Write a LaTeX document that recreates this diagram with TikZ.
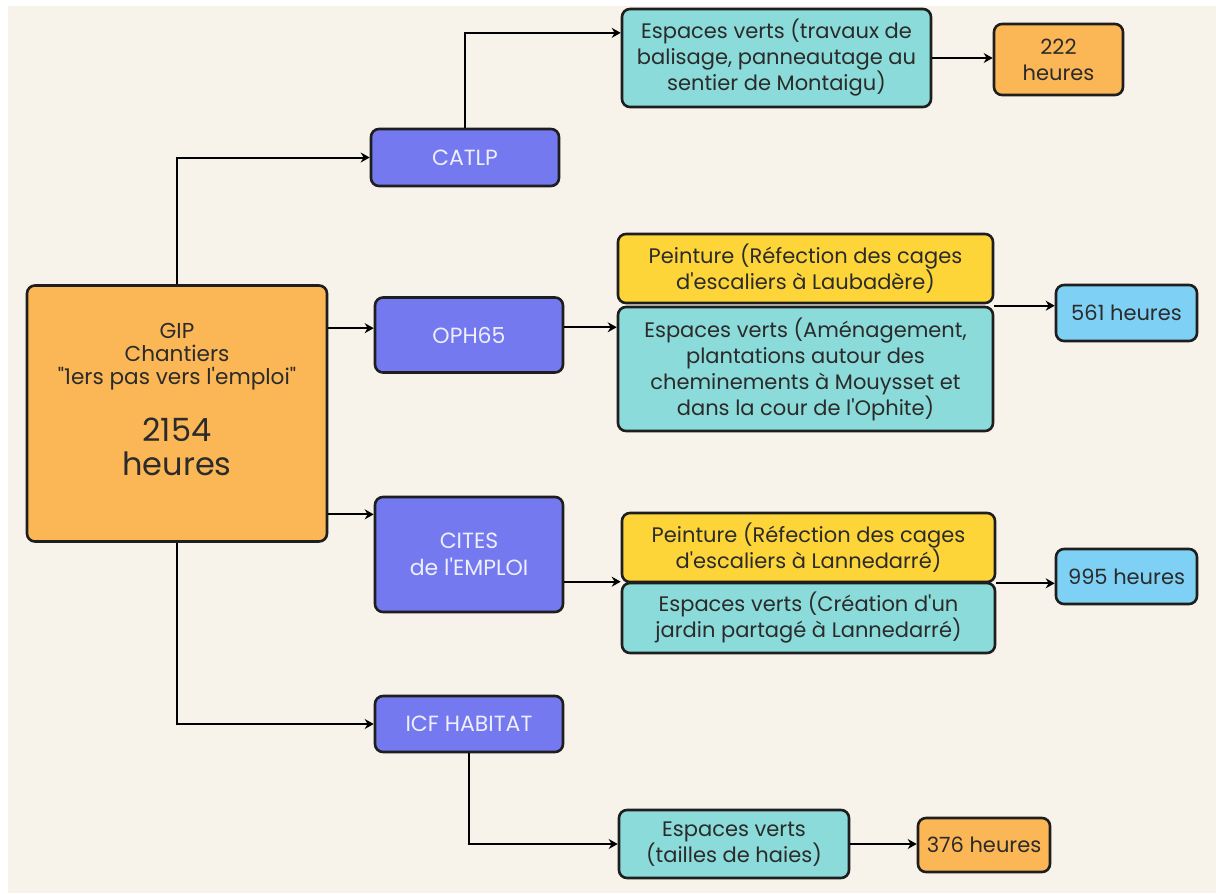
\documentclass[tikz,border=0pt]{standalone}
\usepackage{fontspec}
\setmainfont{Poppins}[Ligatures=TeXOff]
\usetikzlibrary{arrows.meta,calc}

\definecolor{pagebg}{HTML}{F7F3EA}
\definecolor{boxline}{HTML}{1E1E1E}
\definecolor{textdark}{HTML}{2B2B2B}
\definecolor{orgtext}{HTML}{EEEFFB}
\definecolor{hoursorange}{HTML}{FBB755}
\definecolor{orgpurple}{HTML}{7479F0}
\definecolor{greenteal}{HTML}{8ADBD9}
\definecolor{paintyellow}{HTML}{FDD538}
\definecolor{hoursblue}{HTML}{7ED1F4}

\begin{document}
\begin{tikzpicture}[
  x=0.5pt,
  y=-0.5pt,
  chart box/.style={
    draw=boxline,
    line width=1.3pt,
    rounded corners=4pt,
    align=center,
    inner sep=0pt,
    text=textdark,
    font=\fontsize{10.5}{13}\selectfont
  },
  org box/.style={
    chart box,
    fill=orgpurple,
    text=orgtext,
    font=\fontsize{11}{13.5}\selectfont
  },
  green box/.style={
    chart box,
    fill=greenteal
  },
  paint box/.style={
    chart box,
    fill=paintyellow
  },
  hours box/.style={
    chart box,
    fill=hoursorange
  },
  blue hours/.style={
    chart box,
    fill=hoursblue
  },
  gip text/.style={
    align=center,
    inner sep=0pt,
    text=textdark,
    font=\fontsize{10.8}{11.5}\selectfont
  },
  link/.style={
    draw=black,
    line width=1pt,
    -{Stealth[length=4.5pt,width=5pt]}
  },
]
\useasboundingbox (0,0) rectangle (1216,894);
\fill[pagebg] (8,6) rectangle (1216,893);

\node[hours box, minimum width=150pt, minimum height=128pt] (gip) at (177,413.5) {};
\node[gip text] (gip label) at ([yshift=7pt]gip.center)
  {GIP\\Chantiers\\"1ers pas vers l'emploi"\\[13pt]
   {\fontsize{16}{17}\selectfont 2154}\\[4pt]
   {\fontsize{16}{17}\selectfont heures}};

\node[org box, minimum width=94pt, minimum height=28.5pt] (catlp) at (465,157.5) {CATLP};
\node[org box, minimum width=94pt, minimum height=37.5pt] (oph) at (469,335) {OPH65};
\node[org box, minimum width=94pt, minimum height=57.5pt] (cites) at (469,554.5) {CITES\\de l'EMPLOI};
\node[org box, minimum width=94pt, minimum height=28pt] (icf) at (469,724) {ICF HABITAT};

\node[green box, minimum width=154.5pt, minimum height=49pt] (ev1) at (776.5,58)
  {Espaces verts (travaux de\\balisage, panneautage au\\sentier de Montaigu)};
\node[hours box, minimum width=64.5pt, minimum height=35.5pt] (h222) at (1058.5,59.5) {222\\heures};

\node[paint box, minimum width=187.5pt, minimum height=34.5pt] (pe1) at (805.5,268.5)
  {Peinture (Réfection des cages\\d'escaliers à Laubadère)};
\node[green box, minimum width=187.5pt, minimum height=62pt] (ev2) at (805.5,369)
  {Espaces verts (Aménagement,\\plantations autour des\\cheminements à Mouysset et\\dans la cour de l'Ophite)};
\node[blue hours, minimum width=70.5pt, minimum height=28pt] (h561) at (1126.5,313) {561 heures};

\node[paint box, minimum width=186.5pt, minimum height=34.5pt] (pe2) at (808.5,547.5)
  {Peinture (Réfection des cages\\d'escaliers à Lannedarré)};
\node[green box, minimum width=186.5pt, minimum height=35pt] (ev3) at (808.5,618)
  {Espaces verts (Création d'un\\jardin partagé à Lannedarré)};
\node[blue hours, minimum width=70.5pt, minimum height=27.5pt] (h995) at (1126.5,576.5) {995 heures};

\node[green box, minimum width=115pt, minimum height=34pt] (ev4) at (734,844)
  {Espaces verts\\(tailles de haies)};
\node[hours box, minimum width=66pt, minimum height=27pt] (h376) at (984,845) {376 heures};

\coordinate (gip out1) at ($(gip.north east)!.17!(gip.south east)$);
\coordinate (gip out2) at ($(gip.north east)!.89!(gip.south east)$);
\coordinate (ev1 in) at ($(ev1.north west)!.25!(ev1.south west)$);
\coordinate (oph out) at ($(oph.north east)!.4!(oph.south east)$);

\draw[link] (gip.north) |- (catlp.west);
\draw[link] (catlp.north) |- (ev1 in);
\draw[link] (ev1.east) -- (ev1.east -| h222.west);
\draw[link] (gip out1) -- (gip out1 -| oph.west);
\draw[link] (oph out) -- (oph out -| ev2.west);
\draw[link] (ev2.north east) -- (ev2.north east -| h561.west);
\draw[link] (gip out2) -- (gip out2 -| cites.west);
\draw[link] (cites.east |- ev3.north west) -- (ev3.north west);
\draw[link] (pe2.south east) -- (pe2.south east -| h995.west);
\draw[link] (gip.south) |- (icf.west);
\draw[link] (icf.south) |- (ev4.west);
\draw[link] (ev4.east) -- (ev4.east -| h376.west);
\end{tikzpicture}
\end{document}
